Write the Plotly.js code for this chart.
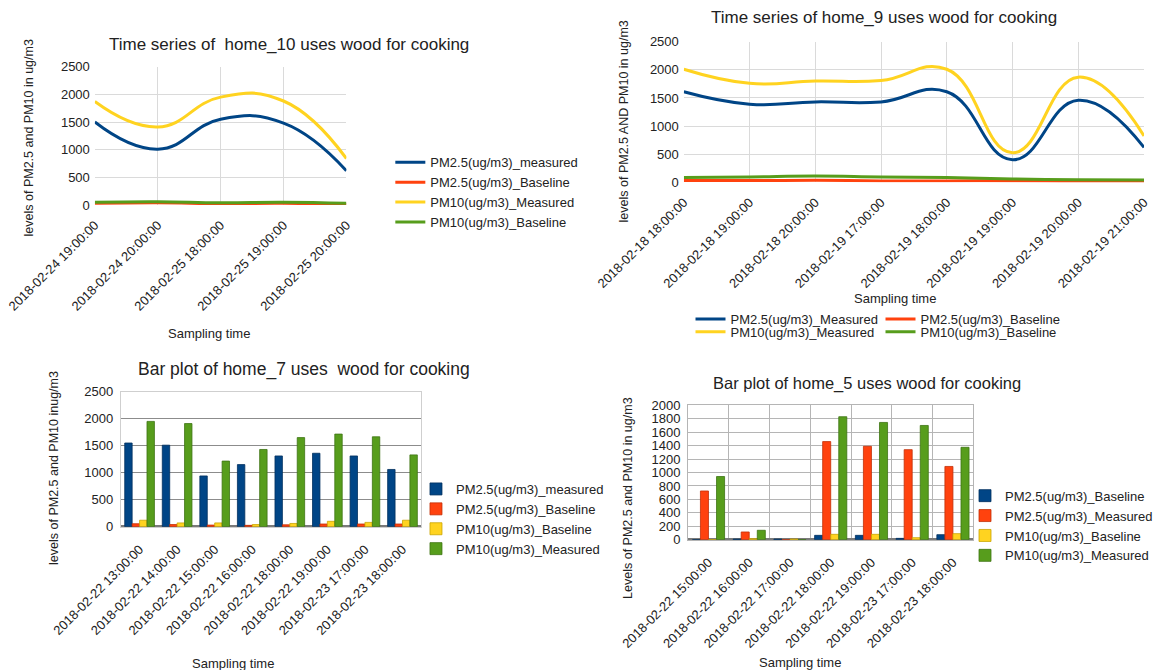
<!DOCTYPE html>
<html>
<head>
<meta charset="utf-8">
<script src="https://cdn.plot.ly/plotly-3.0.1.min.js"></script>
<style>
  html, body { margin: 0; padding: 0; background: #ffffff; }
  #chart { width: 1158px; height: 670px; }
</style>
</head>
<body>
<div id="chart"></div>
<script>
// ---- home_10: time series (ug/m3) ----
const home10Times = ['2018-02-24 19:00:00', '2018-02-24 20:00:00', '2018-02-25 18:00:00', '2018-02-25 19:00:00', '2018-02-25 20:00:00'];
const home10Pm25Measured = [1500, 1010, 1550, 1480, 620];
const home10Pm25Baseline = [30, 40, 25, 30, 10];
const home10Pm10Measured = [1870, 1410, 1950, 1880, 840];
const home10Pm10Baseline = [50, 60, 40, 50, 30];

// ---- home_9: time series (ug/m3) ----
const home9Times = ['2018-02-18 18:00:00', '2018-02-18 19:00:00', '2018-02-18 20:00:00', '2018-02-19 17:00:00', '2018-02-19 18:00:00', '2018-02-19 19:00:00', '2018-02-19 20:00:00', '2018-02-19 21:00:00'];
const home9Pm25Measured = [1610, 1390, 1430, 1430, 1610, 400, 1460, 620];
const home9Pm25Baseline = [30, 30, 35, 25, 25, 25, 10, 5];
const home9Pm10Measured = [2010, 1760, 1800, 1810, 2010, 525, 1870, 825];
const home9Pm10Baseline = [85, 95, 110, 95, 85, 60, 45, 40];

// ---- home_7: bar plot (ug/m3) ----
const home7Times = ['2018-02-22 13:00:00', '2018-02-22 14:00:00', '2018-02-22 15:00:00', '2018-02-22 16:00:00', '2018-02-22 18:00:00', '2018-02-22 19:00:00', '2018-02-23 17:00:00', '2018-02-23 18:00:00'];
const home7Pm25Measured = [1550, 1510, 940, 1150, 1310, 1360, 1310, 1060];
const home7Pm25Baseline = [55, 40, 30, 25, 35, 50, 50, 50];
const home7Pm10Baseline = [120, 70, 70, 40, 60, 100, 80, 120];
const home7Pm10Measured = [1950, 1910, 1215, 1430, 1650, 1715, 1665, 1330];

// ---- home_5: bar plot (ug/m3) ----
const home5Times = ['2018-02-22 15:00:00', '2018-02-22 16:00:00', '2018-02-22 17:00:00', '2018-02-22 18:00:00', '2018-02-22 19:00:00', '2018-02-23 17:00:00', '2018-02-23 18:00:00'];
const home5Pm25Baseline = [0, 10, 10, 65, 65, 20, 75];
const home5Pm25Measured = [725, 115, 0, 1460, 1390, 1340, 1090];
const home5Pm10Baseline = [0, 15, 10, 80, 80, 30, 90];
const home5Pm10Measured = [940, 140, 0, 1830, 1745, 1700, 1375];

// Palette
const BLUE = '#004586', RED = '#ff420e', YELLOW = '#ffd320', GREEN = '#579d1c';
const EDGE = { [BLUE]: '#00305e', [RED]: '#c23008', [YELLOW]: '#c9a400', [GREEN]: '#3e7313' };

const W = 1158, H = 670;
const fx = p => p / W;        // pixel column -> paper x
const fy = p => 1 - p / H;    // pixel row -> paper y
const FONT = 'Liberation Sans, Arial, sans-serif';
const TXT = '#222222';

function line(x, y, name, color, ax, legend) {
  return {
    type: 'scatter', mode: 'lines', x: x, y: y, name: name,
    xaxis: 'x' + ax, yaxis: 'y' + ax, legend: legend,
    line: { color: color, width: 3, shape: 'spline', smoothing: 1.3 },
    hoverinfo: 'x+y+name'
  };
}
function bar(x, y, name, color, ax, legend) {
  return {
    type: 'bar', x: x, y: y, name: name,
    xaxis: 'x' + ax, yaxis: 'y' + ax, legend: legend,
    marker: { color: color, line: { color: EDGE[color], width: 0.8 } }
  };
}

const traces = [
  line(home10Times, home10Pm25Measured, 'PM2.5(ug/m3)_measured', BLUE, '', 'legend'),
  line(home10Times, home10Pm25Baseline, 'PM2.5(ug/m3)_Baseline', RED, '', 'legend'),
  line(home10Times, home10Pm10Measured, 'PM10(ug/m3)_Measured', YELLOW, '', 'legend'),
  line(home10Times, home10Pm10Baseline, 'PM10(ug/m3)_Baseline', GREEN, '', 'legend'),

  line(home9Times, home9Pm25Measured, 'PM2.5(ug/m3)_Measured', BLUE, '2', 'legend2'),
  line(home9Times, home9Pm25Baseline, 'PM2.5(ug/m3)_Baseline', RED, '2', 'legend2'),
  line(home9Times, home9Pm10Measured, 'PM10(ug/m3)_Measured', YELLOW, '2', 'legend3'),
  line(home9Times, home9Pm10Baseline, 'PM10(ug/m3)_Baseline', GREEN, '2', 'legend3'),

  bar(home7Times, home7Pm25Measured, 'PM2.5(ug/m3)_measured', BLUE, '3', 'legend4'),
  bar(home7Times, home7Pm25Baseline, 'PM2.5(ug/m3)_Baseline', RED, '3', 'legend4'),
  bar(home7Times, home7Pm10Baseline, 'PM10(ug/m3)_Baseline', YELLOW, '3', 'legend4'),
  bar(home7Times, home7Pm10Measured, 'PM10(ug/m3)_Measured', GREEN, '3', 'legend4'),

  bar(home5Times, home5Pm25Baseline, 'PM2.5(ug/m3)_Baseline', BLUE, '4', 'legend5'),
  bar(home5Times, home5Pm25Measured, 'PM2.5(ug/m3)_Measured', RED, '4', 'legend5'),
  bar(home5Times, home5Pm10Baseline, 'PM10(ug/m3)_Baseline', YELLOW, '4', 'legend5'),
  bar(home5Times, home5Pm10Measured, 'PM10(ug/m3)_Measured', GREEN, '4', 'legend5')
];

const tickFont = { family: FONT, size: 13, color: TXT };

function catAxis(domain, anchor, range, extra) {
  return Object.assign({
    type: 'category', domain: domain, anchor: anchor, range: range,
    tickangle: -45, tickfont: tickFont, ticks: '', ticklabelstandoff: 9, automargin: false,
    showgrid: true, gridcolor: '#dadada', gridwidth: 1, zeroline: false, showline: false,
    fixedrange: true
  }, extra || {});
}
function valAxis(domain, anchor, range, dtick, extra) {
  return Object.assign({
    domain: domain, anchor: anchor, range: range, dtick: dtick, tick0: 0,
    tickfont: tickFont, ticks: '', ticklabelstandoff: 4, automargin: false,
    showgrid: true, gridcolor: '#dadada', gridwidth: 1, zeroline: false, showline: false,
    fixedrange: true
  }, extra || {});
}

function legendBox(x, y, size, extra) {
  return Object.assign({
    x: x, y: y, xanchor: 'left', yanchor: 'top', bgcolor: 'rgba(0,0,0,0)',
    borderwidth: 0, font: { family: FONT, size: size, color: TXT },
    tracegroupgap: 0, itemclick: false, itemdoubleclick: false
  }, extra || {});
}

function label(text, x, y, size, extra) {
  return Object.assign({
    text: text, xref: 'paper', yref: 'paper', x: fx(x), y: fy(y),
    xanchor: 'center', yanchor: 'middle', showarrow: false,
    font: { family: FONT, size: size, color: TXT }
  }, extra || {});
}
const vertical = { textangle: -90 };

const layout = {
  width: W, height: H,
  margin: { l: 0, r: 0, t: 0, b: 0 },
  paper_bgcolor: '#ffffff', plot_bgcolor: '#ffffff',
  font: { family: FONT, color: TXT },
  barmode: 'group', bargap: 0.21, bargroupgap: 0,
  hovermode: 'closest',

  xaxis: catAxis([fx(95), fx(347)], 'y', [0, 4]),
  yaxis: valAxis([fy(205), fy(66.7)], 'x', [0, 2500], 500),

  xaxis2: catAxis([fx(685), fx(1146)], 'y2', [0, 7]),
  yaxis2: valAxis([fy(182.3), fy(41.7)], 'x2', [0, 2500], 500),

  xaxis3: catAxis([fx(121), fx(422)], 'y3', [-0.5, 7.5],
    { showgrid: false, showline: true, mirror: true, linecolor: '#cfcfcf', linewidth: 1 }),
  yaxis3: valAxis([fy(526.7), fy(391.7)], 'x3', [0, 2500], 500,
    { gridcolor: '#8c8c8c', showline: true, mirror: true, linecolor: '#cfcfcf', linewidth: 1,
      zeroline: true, zerolinecolor: '#7a7a7a', zerolinewidth: 3 }),

  xaxis4: catAxis([fx(689.3), fx(975)], 'y4', [-0.5, 6.5],
    { tickson: 'boundaries', gridcolor: '#b5b5b5', showline: true, mirror: true, linecolor: '#b5b5b5', linewidth: 1 }),
  yaxis4: valAxis([fy(539.7), fy(405.3)], 'x4', [0, 2000], 200,
    { gridcolor: '#b5b5b5', showline: true, mirror: true, linecolor: '#b5b5b5', linewidth: 1,
      zeroline: true, zerolinecolor: '#7a7a7a', zerolinewidth: 3 }),

  legend: legendBox(fx(391), fy(147.3), 13),
  legend2: legendBox(fx(691.7), fy(304), 13, { orientation: 'h', entrywidth: 145 }),
  legend3: legendBox(fx(691.7), fy(316.7), 13, { orientation: 'h', entrywidth: 145 }),
  legend4: legendBox(fx(416.7), fy(474), 13),
  legend5: legendBox(fx(966.7), fy(480.7), 13),

  annotations: [
    // chart titles
    label('Time series of \u00a0home_10 uses wood for cooking', 290, 45, 17),
    label('Time series of home_9 uses wood for cooking', 885.5, 18, 17),
    label('Bar plot of home_7 uses \u00a0wood for cooking', 305, 369, 17.5),
    label('Bar plot of home_5 uses wood for cooking', 869, 383, 16.5),

    // value-axis titles
    label('levels of PM2.5 and PM10 in ug/m3', 29, 137.5, 12.5, vertical),
    label('levels of PM2.5 AND PM10 in ug/m3', 625.5, 121, 12.5, vertical),
    label('levels of PM2.5 and PM10 inug/m3', 54, 468, 12.5, vertical),
    label('Levels of PM2.5 and PM10 in ug/m3', 629, 498, 12.5, vertical),

    // time-axis titles
    label('Sampling time', 209, 334, 13),
    label('Sampling time', 897, 298, 13),
    label('Sampling time', 233, 663, 13),
    label('Sampling time', 801, 662, 13)
  ]
};

Plotly.newPlot('chart', traces, layout, { displayModeBar: false, responsive: false });
</script>
</body>
</html>
